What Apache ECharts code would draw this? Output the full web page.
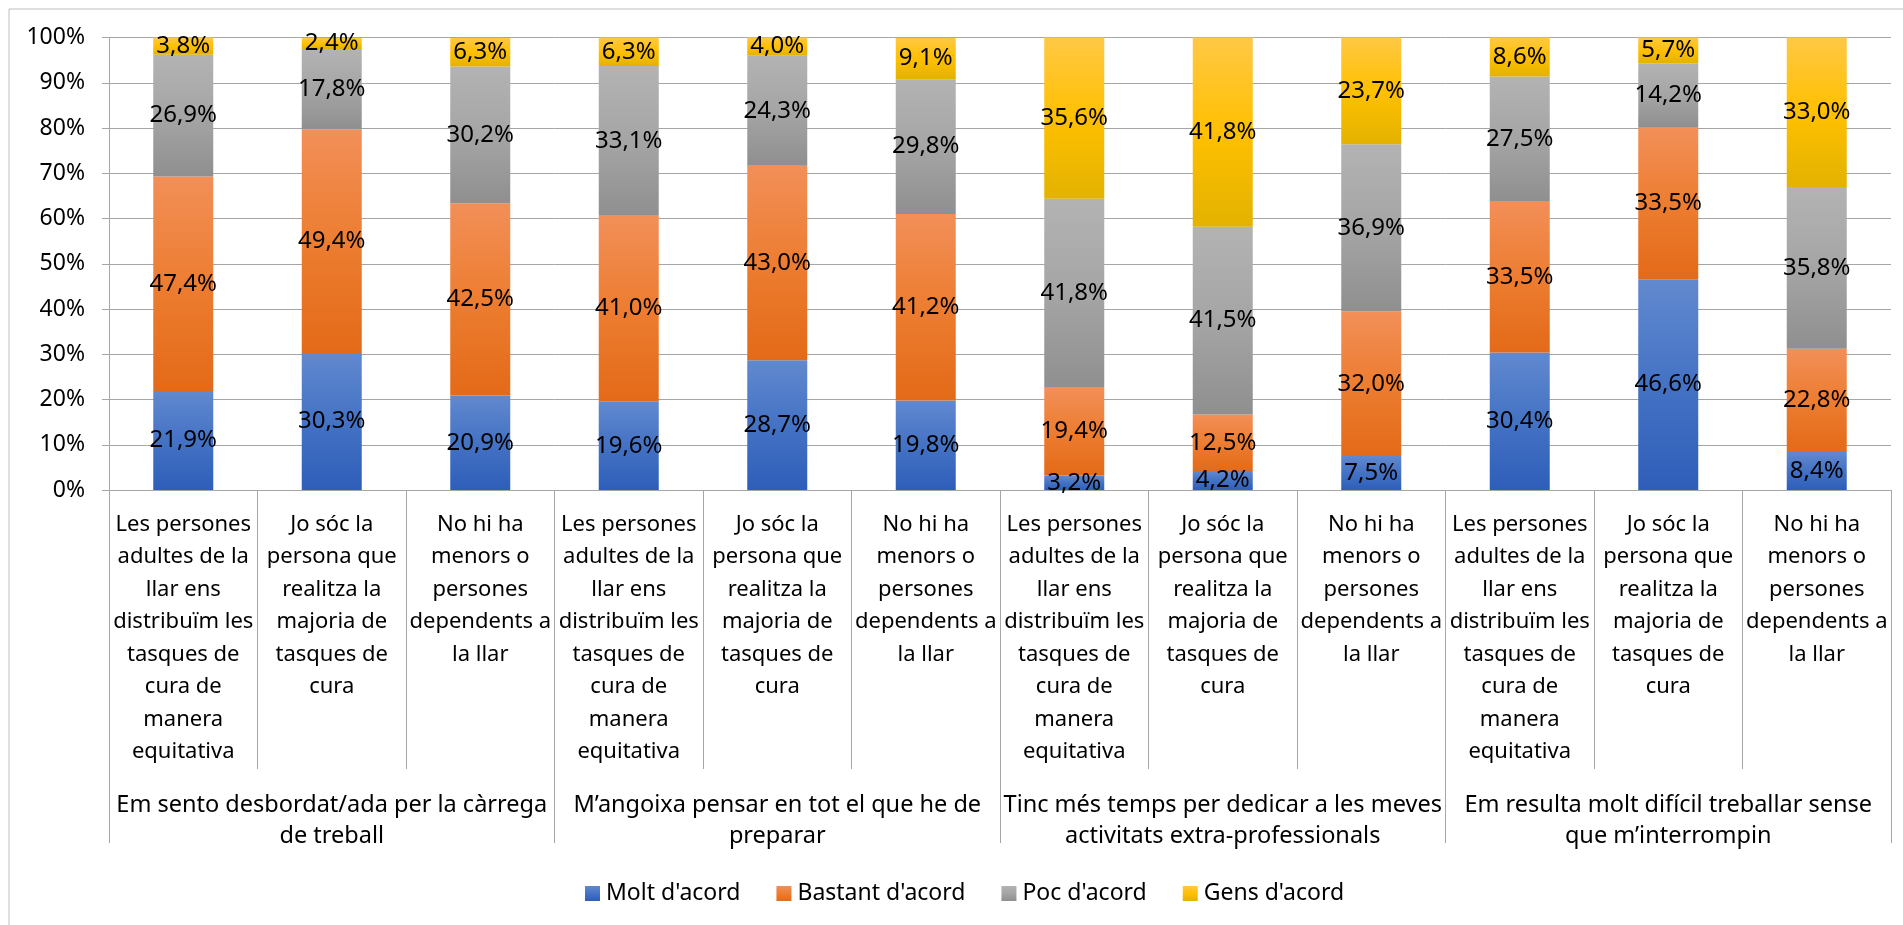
<!DOCTYPE html>
<html>
<head>
<meta charset="utf-8">
<title>Enquesta - tasques de cura</title>
<script src="https://cdn.jsdelivr.net/npm/echarts@6/dist/echarts.min.js"></script>
<style>
  html, body { margin: 0; padding: 0; background: #fff; }
  #chart { width: 1903px; height: 925px; }
</style>
</head>
<body>
<div id="chart"></div>
<script>
// categories (one per bar)
const categories = [
  'Les persones\nadultes de la\nllar ens\ndistribuïm les\ntasques de\ncura de\nmanera\nequitativa',
  'Jo sóc la\npersona que\nrealitza la\nmajoria de\ntasques de\ncura',
  'No hi ha\nmenors o\npersones\ndependents a\nla llar',
  'Les persones\nadultes de la\nllar ens\ndistribuïm les\ntasques de\ncura de\nmanera\nequitativa',
  'Jo sóc la\npersona que\nrealitza la\nmajoria de\ntasques de\ncura',
  'No hi ha\nmenors o\npersones\ndependents a\nla llar',
  'Les persones\nadultes de la\nllar ens\ndistribuïm les\ntasques de\ncura de\nmanera\nequitativa',
  'Jo sóc la\npersona que\nrealitza la\nmajoria de\ntasques de\ncura',
  'No hi ha\nmenors o\npersones\ndependents a\nla llar',
  'Les persones\nadultes de la\nllar ens\ndistribuïm les\ntasques de\ncura de\nmanera\nequitativa',
  'Jo sóc la\npersona que\nrealitza la\nmajoria de\ntasques de\ncura',
  'No hi ha\nmenors o\npersones\ndependents a\nla llar'
];
// groups (second row of the axis)
const groups = [
  'Em sento desbordat/ada per la càrrega\nde treball',
  'M’angoixa pensar en tot el que he de\npreparar',
  'Tinc més temps per dedicar a les meves\nactivitats extra-professionals',
  'Em resulta molt difícil treballar sense\nque m’interrompin'
];
const seriesNames = ["Molt d'acord", "Bastant d'acord", "Poc d'acord", "Gens d'acord"];
const molt    = [21.9, 30.3, 20.9, 19.6, 28.7, 19.8, 3.2, 4.2, 7.5, 30.4, 46.6, 8.4];
const bastant = [47.4, 49.4, 42.5, 41.0, 43.0, 41.2, 19.4, 12.5, 32.0, 33.5, 33.5, 22.8];
const poc     = [26.9, 17.8, 30.2, 33.1, 24.3, 29.8, 41.8, 41.5, 36.9, 27.5, 14.2, 35.8];
const gens    = [3.8, 2.4, 6.3, 6.3, 4.0, 9.1, 35.6, 41.8, 23.7, 8.6, 5.7, 33.0];
const yTicks = [0, 10, 20, 30, 40, 50, 60, 70, 80, 90, 100];

const FONT = 'Noto Sans';
const lineColor = '#a6a6a6';

// degradats verticals per segment
function grad(top, mid, bottom) {
  return new echarts.graphic.LinearGradient(0, 0, 0, 1, [
    { offset: 0, color: top },
    { offset: 0.5, color: mid },
    { offset: 1, color: bottom }
  ]);
}
const colors = [
  grad('#6189cf', '#4472c4', '#2e5eb9'),
  grad('#f28f58', '#ed7d31', '#e36a18'),
  grad('#b3b3b3', '#a5a5a5', '#8f8f8f'),
  grad('#ffc845', '#ffc000', '#e3b200')
];

const values = [molt, bastant, poc, gens];

const chart = echarts.init(document.getElementById('chart'));
chart.setOption({
  animation: false,
  textStyle: { fontFamily: FONT },
  graphic: [{
    type: 'rect',
    shape: { x: 9, y: 9, width: 2000, height: 2000 },
    style: { fill: 'none', stroke: '#bfbfbf', lineWidth: 1 },
    silent: true
  }],
  legend: {
    data: seriesNames,
    left: 580,
    top: 877,
    itemWidth: 15,
    itemHeight: 15,
    itemGap: 36,
    icon: 'rect',
    textStyle: { fontFamily: FONT, fontSize: 23, color: '#000', padding: [0, 0, 0, 1] }
  },
  grid: { left: 109, right: 12, top: 37.6, bottom: 435, containLabel: false },
  xAxis: [
    {
      type: 'category',
      data: categories,
      position: 'bottom',
      axisLine: { lineStyle: { color: lineColor, width: 1 } },
      axisTick: { show: true, interval: 0, length: 279, lineStyle: { color: lineColor, width: 1 } },
      axisLabel: {
        interval: 0, margin: 18, color: '#000',
        fontFamily: FONT, fontSize: 22, lineHeight: 32.5, align: 'center'
      }
    },
    {
      type: 'category',
      data: groups,
      position: 'bottom',
      axisLine: { show: false },
      axisTick: { show: true, interval: 0, length: 353, lineStyle: { color: lineColor, width: 1 } },
      axisLabel: {
        interval: 0, margin: 300, color: '#000',
        fontFamily: FONT, fontSize: 23.5, lineHeight: 31, align: 'center'
      }
    }
  ],
  yAxis: {
    type: 'value',
    min: 0,
    max: 100,
    interval: 10,
    axisLine: { show: true, lineStyle: { color: lineColor } },
    axisTick: { show: true, length: 7, lineStyle: { color: lineColor } },
    splitLine: { lineStyle: { color: lineColor, width: 1 } },
    axisLabel: {
      margin: 24, color: '#000', fontFamily: FONT, fontSize: 23,
      formatter: v => (yTicks.includes(v) ? v + '%' : '')
    }
  },
  series: seriesNames.map((name, i) => ({
    name: name,
    type: 'bar',
    stack: 'total',
    xAxisIndex: 0,
    barWidth: 60,
    data: values[i],
    itemStyle: { color: colors[i] },
    label: {
      show: true,
      position: 'inside',
      color: '#000',
      fontFamily: FONT,
      fontSize: 24,
      formatter: p => p.value.toFixed(1).replace('.', ',') + '%'
    }
  }))
});
</script>
</body>
</html>
